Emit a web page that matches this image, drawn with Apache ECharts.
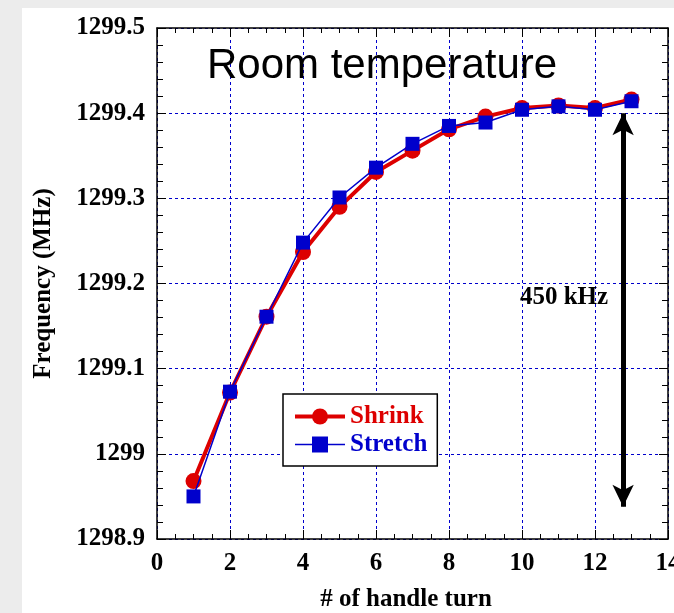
<!DOCTYPE html>
<html>
<head>
<meta charset="utf-8">
<script src="https://cdn.jsdelivr.net/npm/echarts@6/dist/echarts.min.js"></script>
<style>
  html, body { margin: 0; padding: 0; background: #ececec; width: 674px; height: 613px; overflow: hidden; }
  #chart { position: absolute; left: 22px; top: 8px; width: 652px; height: 605px; background: #ffffff; }
</style>
</head>
<body>
<div id="chart"></div>
<script>
// Number of handle turns
const turns = [1, 2, 3, 4, 5, 6, 7, 8, 9, 10, 11, 12, 13];
// Resonant frequency (MHz) after each turn
const shrinkMHz  = [1298.968, 1299.072, 1299.161, 1299.237, 1299.290, 1299.331, 1299.356, 1299.381, 1299.396, 1299.406, 1299.409, 1299.406, 1299.416];
const stretchMHz = [1298.950, 1299.073, 1299.161, 1299.248, 1299.301, 1299.336, 1299.364, 1299.385, 1299.389, 1299.404, 1299.408, 1299.404, 1299.414];
// Tuning range annotation (arrow ends and label position)
const rangeArrowX = 12.77;
const rangeArrowY = [1299.4, 1298.938];
const rangeLabel = { text: '450 kHz', x: 11.15, y: 1299.184 };

const serif = '"Liberation Serif", "Times New Roman", serif';
const gridBlue = '#0000cc';

const chart = echarts.init(document.getElementById('chart'), null, { renderer: 'canvas' });

const baseX = {
  type: 'value', min: 0, max: 14, interval: 2,
  axisLine: { show: true, onZero: false, lineStyle: { color: '#000', width: 1.5 } },
  axisTick: { show: true, inside: true, length: 9, lineStyle: { color: '#000', width: 1 } },
  minorTick: { show: true, splitNumber: 4, length: 5, lineStyle: { color: '#000', width: 1 } },
};
const baseY = {
  type: 'value', min: 1298.9, max: 1299.5, interval: 0.1,
  axisLine: { show: true, onZero: false, lineStyle: { color: '#000', width: 1.5 } },
  axisTick: { show: true, inside: true, length: 9, lineStyle: { color: '#000', width: 1 } },
  minorTick: { show: true, splitNumber: 5, length: 6, lineStyle: { color: '#000', width: 1 } },
};

chart.setOption({
  animation: false,
  backgroundColor: '#ffffff',
  title: {
    text: 'Room temperature',
    left: 180, top: 32,
    textStyle: { fontFamily: '"Liberation Sans", Arial, sans-serif', fontSize: 42, fontWeight: 'normal', color: '#000' }
  },
  grid: { left: 135, top: 20, width: 511, height: 511, outerBoundsMode: 'none', containLabel: false },
  legend: {
    orient: 'vertical',
    left: 261, top: 386,
    padding: [10, 10, 9, 10],
    itemGap: 3,
    itemWidth: 50, itemHeight: 20,
    borderColor: '#000', borderWidth: 1.5,
    backgroundColor: '#fff',
    data: [
      { name: 'Shrink', textStyle: { color: '#dd0000' }, lineStyle: { width: 4 } },
      { name: 'Stretch', textStyle: { color: '#0000cc' }, lineStyle: { width: 1.5 } }
    ],
    textStyle: { fontFamily: serif, fontSize: 25, fontWeight: 'bold' }
  },
  xAxis: [
    Object.assign({}, baseX, {
      position: 'bottom',
      name: '# of handle turn', nameLocation: 'middle', nameGap: 48,
      nameTextStyle: { fontFamily: serif, fontSize: 25, fontWeight: 'bold', color: '#000', padding: [0, 13, 0, 0] },
      axisLabel: { margin: 12, fontFamily: serif, fontSize: 25, fontWeight: 'bold', color: '#000' },
      splitLine: { show: true, lineStyle: { color: gridBlue, width: 1, type: [3, 3] } }
    }),
    Object.assign({}, baseX, {
      position: 'top',
      axisLabel: { show: false },
      splitLine: { show: false }
    })
  ],
  yAxis: [
    Object.assign({}, baseY, {
      position: 'left',
      name: 'Frequency (MHz)', nameLocation: 'middle', nameGap: 101,
      nameTextStyle: { fontFamily: serif, fontSize: 25, fontWeight: 'bold', color: '#000' },
      axisLabel: {
        margin: 12, fontFamily: serif, fontSize: 25, fontWeight: 'bold', color: '#000',
        formatter: v => String(Number(v.toFixed(1)))
      },
      splitLine: { show: true, lineStyle: { color: gridBlue, width: 1, type: [3, 3] } }
    }),
    Object.assign({}, baseY, {
      position: 'right',
      axisLabel: { show: false },
      splitLine: { show: false }
    })
  ],
  series: [
    {
      name: 'Shrink', type: 'line',
      data: turns.map((t, i) => [t, shrinkMHz[i]]),
      symbol: 'circle', symbolSize: 16,
      lineStyle: { color: '#dd0000', width: 4 },
      itemStyle: { color: '#dd0000' },
      z: 3
    },
    {
      name: 'Stretch', type: 'line',
      data: turns.map((t, i) => [t, stretchMHz[i]]),
      symbol: 'rect', symbolSize: 14,
      lineStyle: { color: '#0000cc', width: 1.5 },
      itemStyle: { color: '#0000cc' },
      z: 4
    },
    {
      name: 'range', type: 'line', data: [],
      silent: true,
      markLine: {
        silent: true,
        symbol: ['arrow', 'arrow'],
        symbolSize: [16, 22],
        lineStyle: { color: '#000', width: 5, type: 'solid' },
        label: { show: false },
        data: [[
          { coord: [rangeArrowX, rangeArrowY[0]] },
          { coord: [rangeArrowX, rangeArrowY[1]] }
        ]]
      },
      markPoint: {
        silent: true,
        symbol: 'circle', symbolSize: 0,
        label: { show: true, position: 'inside', formatter: rangeLabel.text, fontFamily: serif, fontSize: 25, fontWeight: 'bold', color: '#000' },
        data: [{ coord: [rangeLabel.x, rangeLabel.y] }]
      }
    }
  ]
});
</script>
</body>
</html>
